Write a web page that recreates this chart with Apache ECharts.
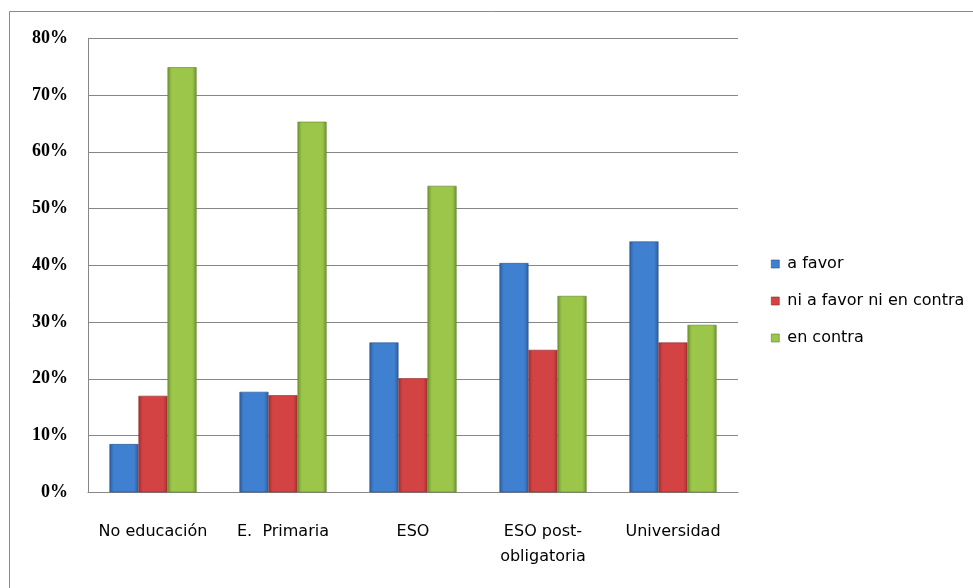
<!DOCTYPE html>
<html>
<head>
<meta charset="utf-8">
<script src="https://cdn.jsdelivr.net/npm/echarts@6/dist/echarts.min.js"></script>
<style>
  html, body { margin: 0; padding: 0; background: #fff; }
  #chart { width: 973px; height: 588px; }
</style>
</head>
<body>
<div id="chart"></div>
<script>
// Education levels and opinion shares (percent)
var categories = ['No educación', 'E.  Primaria', 'ESO', 'ESO post-\nobligatoria', 'Universidad'];
var aFavor = [8.5, 17.7, 26.4, 40.4, 44.2];
var niAFavorNiEnContra = [17.0, 17.1, 20.1, 25.1, 26.4];
var enContra = [74.9, 65.3, 54.0, 34.6, 29.5];
var seriesNames = ['a favor', 'ni a favor ni en contra', 'en contra'];
var yTicks = [0, 10, 20, 30, 40, 50, 60, 70, 80];

// Bevelled bar look: dark edges, lighter centre
function barFill(edge, mid) {
  return new echarts.graphic.LinearGradient(0, 0, 1, 0, [
    { offset: 0, color: edge },
    { offset: 0.15, color: mid },
    { offset: 0.85, color: mid },
    { offset: 1, color: edge }
  ]);
}
var palette = [
  { edge: '#2c5f9f', mid: '#3f80d0', border: '#264f86' },
  { edge: '#a32f2f', mid: '#d44343', border: '#8e2828' },
  { edge: '#6f9430', mid: '#9cc64a', border: '#5f7f28' }
];
var seriesData = [aFavor, niAFavorNiEnContra, enContra];

function draw() {
  var chart = echarts.init(document.getElementById('chart'), null, { renderer: 'canvas' });

  var series = seriesData.map(function (vals, i) {
    return {
      name: seriesNames[i],
      type: 'bar',
      data: vals,
      barGap: '0%',
      barCategoryGap: '33%',
      itemStyle: {
        color: barFill(palette[i].edge, palette[i].mid),
        borderColor: palette[i].border,
        borderWidth: 0.6
      },
      emphasis: { disabled: true }
    };
  });

  chart.setOption({
    animation: false,
    backgroundColor: '#ffffff',
    graphic: [{
      type: 'rect',
      shape: { x: 9.5, y: 11.5, width: 1000, height: 1000 },
      style: { fill: 'none', stroke: '#8a8a8a', lineWidth: 1 },
      silent: true,
      z: -1
    }],
    legend: {
      orient: 'vertical',
      left: 771,
      top: 256,
      padding: 0,
      itemWidth: 8,
      itemHeight: 8,
      itemGap: 21,
      icon: 'rect',
      data: seriesNames.map(function (n, i) {
        return { name: n, itemStyle: { color: palette[i].mid, borderColor: palette[i].border, borderWidth: 0.6 } };
      }),
      textStyle: { fontFamily: 'DejaVu Sans', fontSize: 16, color: '#000', lineHeight: 16, padding: [0, 0, 0, 3] },
      selectedMode: false
    },
    grid: { left: 88, top: 38.3, right: 235, bottom: 95.7, containLabel: false },
    xAxis: {
      type: 'category',
      data: categories,
      axisLine: { lineStyle: { color: '#868686', width: 1 } },
      axisTick: { show: false },
      axisLabel: {
        fontFamily: 'DejaVu Sans',
        fontSize: 16,
        color: '#000',
        margin: 27,
        lineHeight: 25,
        interval: 0
      }
    },
    yAxis: {
      type: 'value',
      min: yTicks[0],
      max: yTicks[yTicks.length - 1],
      interval: 10,
      axisLine: { show: true, lineStyle: { color: '#868686', width: 1 } },
      axisTick: { show: false },
      splitLine: { lineStyle: { color: '#868686', width: 1 } },
      axisLabel: {
        fontFamily: '"Liberation Serif", "Times New Roman", serif',
        fontWeight: 'bold',
        fontSize: 18,
        color: '#000',
        margin: 20,
        formatter: function (v) { return v + '%'; }
      }
    },
    series: series
  });
}

// Make sure the label fonts are ready before drawing
var fontsWanted = ['bold 18px "Liberation Serif"', '16px "DejaVu Sans"'];
if (document.fonts && document.fonts.load) {
  Promise.all(fontsWanted.map(function (f) { return document.fonts.load(f); }))
    .then(draw, draw);
} else {
  draw();
}
</script>
</body>
</html>
